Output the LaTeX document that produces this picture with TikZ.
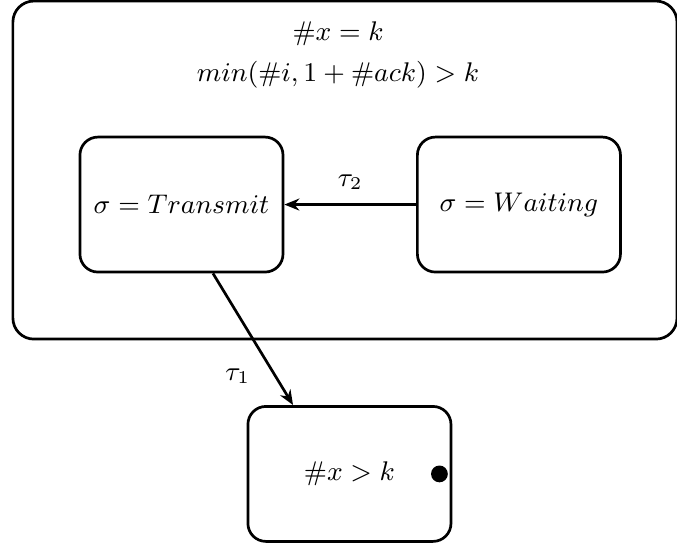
\documentclass[tikz,border=0pt]{standalone}
\usetikzlibrary{positioning, arrows.meta}

\begin{document}
\begin{tikzpicture}[node distance=2cm, on grid, auto,
  every node/.style={inner sep=0pt, font=\fontsize{9.1}{11}\selectfont},
  loc/.style={draw, line width=0.9pt, rounded corners=6pt, minimum width=67.7pt, minimum height=45pt}]
  \useasboundingbox (0,0) rectangle (225.7pt,-181.3pt);
  \node[draw, line width=0.9pt, rounded corners=7pt, minimum width=221.4pt, minimum height=112.7pt] (outer) at (115pt,-56.7pt) {};
  \node (guard1) at (112.7pt,-11.3pt) {$\#x = k$};
  \node (guard2) [below=13.7pt of guard1] {$min(\#i, 1 + \#ack) > k$};
  \node[loc] (transmit) at (60.5pt,-68.2pt) {$\sigma = Transmit$};
  \node[loc] (waiting) [right=112.5pt of transmit] {$\sigma = Waiting$};
  \node[loc] (bad) [below right=89.8pt and 56pt of transmit] {$\#x > k$};
  \node[circle, fill, minimum size=5.6pt] (token) at ([xshift=-4.3pt]bad.east) {};
  \path[-{Stealth[length=5pt, width=4pt]}, line width=0.9pt]
  (waiting) edge node[above=4.5pt] {$\tau_2$} (transmit)
  ([xshift=10.5pt]transmit.south) edge node[pos=0.78, left=8pt] {$\tau_1$} ([xshift=-18.8pt]bad.north)
  ;
\end{tikzpicture}
\end{document}
